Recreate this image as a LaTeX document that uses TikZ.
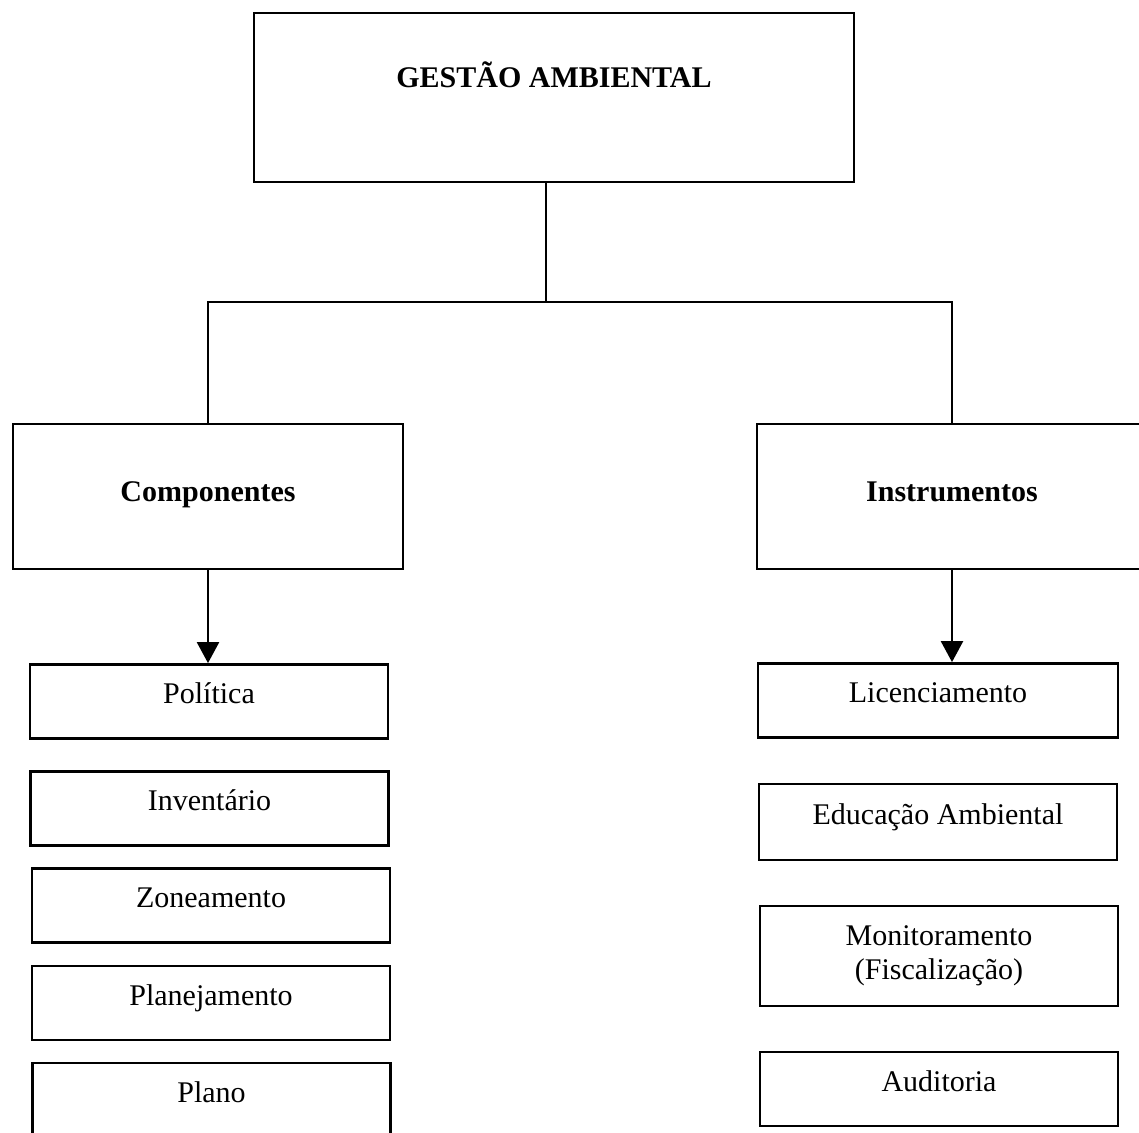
\documentclass[tikz,border=0pt]{standalone}
\usepackage{fontspec}
\setmainfont{Liberation Serif}
\usetikzlibrary{arrows.meta}

\begin{document}
\begin{tikzpicture}[x=1pt,y=-1pt,
  caixa/.style={draw,line width=2.8pt,minimum width=358pt,minimum height=74pt,inner sep=0pt,
    text height=21pt,text depth=17pt,align=center,font=\fontsize{30}{34}\selectfont},
  grande/.style={caixa,minimum width=390pt,minimum height=145pt,text depth=11pt,
    font=\fontsize{30}{34}\selectfont\bfseries},
  liga/.style={line width=2.4pt},
  seta/.style={line width=2.4pt,-{Triangle[length=21pt,width=22pt]}}]
  \clip (0,0) rectangle (1139,1132);
  % topo
  \node[grande,minimum width=600pt,minimum height=169pt,
    label={[anchor=base,yshift=-76pt,font=\fontsize{30}{34}\selectfont\bfseries]north:GESTÃO AMBIENTAL}]
    (gestao) at (554,97.5) {};
  \node[grande] (componentes) at (208,496.5) {Componentes};
  \node[grande] (instrumentos) at (952,496.5) {Instrumentos};
  \coordinate (ramo) at (546,302);
  \draw[liga] (ramo |- gestao.south) -- (ramo);
  \draw[liga] (componentes.north) |- (ramo) -| (instrumentos.north);
  % componentes
  \node[caixa] (politica) at (209,701.5) {Política};
  \node[caixa] (inventario) at (209.5,808.5) {Inventário};
  \node[caixa] (zoneamento) at (211,905.5) {Zoneamento};
  \node[caixa] (planejamento) at (211,1003) {Planejamento};
  \node[caixa] (plano) at (211.5,1100) {Plano};
  \draw[seta] (componentes.south) -- (componentes.south |- politica.north);
  % instrumentos
  \node[caixa,minimum width=360pt] (licenciamento) at (938,700.5) {Licenciamento};
  \node[caixa,minimum width=358pt,minimum height=76pt] (educacao) at (938,822) {Educação Ambiental};
  \node[caixa,minimum width=358pt,minimum height=100pt,text height=,text depth=] (monitoramento) at (939,956) {Monitoramento\\(Fiscalização)};
  \node[caixa] (auditoria) at (939,1089) {Auditoria};
  \draw[seta] (instrumentos.south) -- (instrumentos.south |- licenciamento.north);
\end{tikzpicture}
\end{document}
